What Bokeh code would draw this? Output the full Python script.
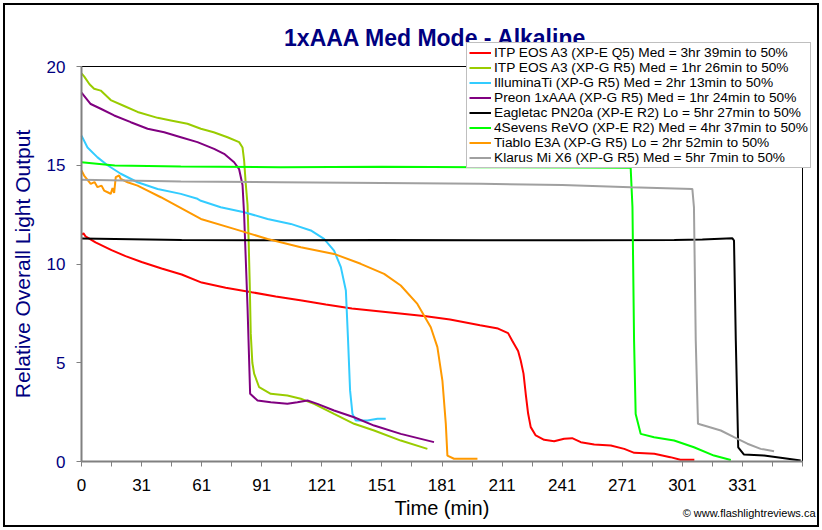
from bokeh.plotting import figure
from bokeh.models import Range1d, FixedTicker, Legend, LegendItem, Label
from bokeh.embed import file_html
from bokeh.resources import INLINE

FONT = "Liberation Sans"

# ---- data (minutes, relative output) ----
red_x = [0, 1, 2, 7, 15, 22, 30, 40, 50, 60, 72, 85, 97, 110, 122, 135, 147, 159, 172, 184, 199, 208, 213, 215,
         218, 219.3, 220.7, 221.8, 223, 224.3, 226.8, 231, 236, 241, 245, 249.3, 256, 264.3, 271, 276, 286, 294, 299, 306]
red_y = [11.5, 11.55, 11.4, 11.1, 10.7, 10.4, 10.1, 9.77, 9.47, 9.06, 8.8, 8.57, 8.36, 8.15, 7.95, 7.75, 7.62, 7.49,
         7.35, 7.19, 6.9, 6.73, 6.5, 6.13, 5.6, 5.11, 4.45, 3.43, 2.43, 1.74, 1.32, 1.1, 1.03, 1.15, 1.18, 0.98, 0.86,
         0.81, 0.64, 0.44, 0.39, 0.22, 0.09, 0.09]

yg_x = [0, 1.3, 4, 6.3, 9.6, 14.6, 21.3, 28, 38, 44.6, 52.9, 59.6, 66, 72.9, 78.7, 80.4, 81.2, 82, 82.9, 83.5, 84,
        84.5, 85.3, 86.2, 88.7, 94.5, 102.8, 109.5, 116.1, 126.1, 136.1, 146.1, 159.4, 172.7]
yg_y = [19.65, 19.5, 19.1, 18.87, 18.78, 18.3, 18.0, 17.7, 17.4, 17.27, 17.1, 16.85, 16.67, 16.42, 16.17, 15.9, 15.24,
        14.07, 13.0, 11.0, 9.0, 6.5, 5.0, 4.45, 3.76, 3.43, 3.34, 3.18, 2.92, 2.41, 1.91, 1.57, 1.06, 0.64]

cyan_x = [0, 3, 8, 13, 19.6, 28, 38, 49.6, 57.9, 59.6, 69.5, 81.2, 92.9, 104.5, 114.5, 121.1, 126.1, 129.5, 132,
          133.1, 134.1, 135.3, 136.9, 142.8, 147.8, 151.9]
cyan_y = [16.5, 15.9, 15.4, 15.0, 14.57, 14.14, 13.8, 13.55, 13.3, 13.2, 12.87, 12.62, 12.28, 12.03, 11.7, 11.27,
          10.68, 9.84, 8.66, 6.13, 3.6, 2.41, 2.08, 2.08, 2.16, 2.16]

purple_x = [0, 4.6, 9.6, 16.3, 24.6, 33, 41.3, 49.6, 57.9, 66.2, 71.2, 76.2, 78.7, 80.4, 81.2, 82.9, 84.2, 87.9, 94.5,
            102.8, 107.8, 112.8, 117.8, 126.1, 136.1, 146.1, 159.4, 176]
purple_y = [18.68, 18.1, 17.86, 17.52, 17.18, 16.85, 16.67, 16.42, 16.17, 15.83, 15.58, 15.15, 14.8, 14.0, 12.5, 7.81,
            3.43, 3.09, 3.0, 2.92, 3.0, 3.09, 2.92, 2.58, 2.24, 1.82, 1.4, 0.98]

black_x = [0, 50, 100, 150, 200, 250, 296, 310, 325, 325.8, 326.7, 327.9, 330.8, 340.8, 349.1, 359.1]
black_y = [11.29, 11.22, 11.2, 11.22, 11.2, 11.2, 11.22, 11.24, 11.3, 11.19, 6.13, 0.72, 0.35, 0.3, 0.19, 0.05]

green_x = [0, 16.6, 49.6, 99.5, 150, 200, 250, 274.2, 275.1, 275.9, 276.7, 279.2, 285.9, 295.9, 305.8, 315.8, 324.2]
green_y = [15.15, 14.99, 14.94, 14.9, 14.92, 14.9, 14.88, 14.87, 12.88, 6.13, 2.41, 1.4, 1.23, 1.06, 0.72, 0.3, 0.08]

orange_x = [0, 1.3, 4.6, 6.5, 8, 10, 11.3, 13.3, 14.6, 15.5, 16.3, 17.1, 18.8, 19.6, 23, 28, 33, 39.6, 59.6, 76.2,
            92.9, 109.5, 126.1, 139.4, 151.1, 159.4, 167.7, 174.4, 177.7, 180.2, 181.9, 182.7, 186, 197.7]
orange_y = [14.73, 14.48, 14.06, 14.15, 13.89, 13.97, 13.72, 13.62, 13.55, 13.85, 13.6, 14.4, 14.48, 14.31, 14.14,
            13.97, 13.72, 13.38, 12.28, 11.78, 11.27, 10.85, 10.51, 10.01, 9.5, 8.91, 7.98, 6.8, 5.79, 4.1, 1.91,
            0.3, 0.14, 0.14]

gray_x = [0, 49.6, 99.5, 150, 199.4, 240, 274.2, 305, 305.8, 306.7, 307.8, 312.5, 319.2, 325.8, 332.5, 339.1, 345.8]
gray_y = [14.26, 14.18, 14.14, 14.1, 14.06, 14.0, 13.89, 13.8, 12.88, 6.13, 1.91, 1.77, 1.57, 1.23, 0.9, 0.64, 0.52]

series_names = [
    "ITP EOS A3 (XP-E Q5) Med = 3hr 39min to 50%",
    "ITP EOS A3 (XP-G R5) Med = 1hr 26min to 50%",
    "IlluminaTi (XP-G R5) Med = 2hr 13min to 50%",
    "Preon 1xAAA (XP-G R5) Med = 1hr 24min to 50%",
    "Eagletac PN20a (XP-E R2) Lo = 5hr 27min to 50%",
    "4Sevens ReVO (XP-E R2) Med = 4hr 37min to 50%",
    "Tiablo E3A (XP-G R5) Lo = 2hr 52min to 50%",
    "Klarus Mi X6 (XP-G R5) Med = 5hr 7min to 50%",
]
series_colors = ["#FF0000", "#99CC00", "#33CCFF", "#800080", "#000000", "#00FF00", "#FF9900", "#A0A0A0"]
series_data = [(red_x, red_y), (yg_x, yg_y), (cyan_x, cyan_y), (purple_x, purple_y),
               (black_x, black_y), (green_x, green_y), (orange_x, orange_y), (gray_x, gray_y)]

x_tick_pos = [0, 30, 60, 90, 120, 150, 180, 210, 240, 270, 300, 330]
x_tick_labels = ["0", "31", "61", "91", "121", "151", "181", "211", "241", "271", "301", "331"]
x_minor_pos = [15, 45, 75, 105, 135, 165, 195, 225, 255, 285, 315, 345, 360]
y_tick_pos = [0, 5, 10, 15, 20]
X_MAX = 360
Y_MAX = 20

# ---- layout (pixels) ----
W, H = 822, 530
AX_LEFT, AX_RIGHT, AX_TOP, AX_BOTTOM = 81, 802, 66, 461   # where 0..X_MAX, 0..Y_MAX sit
FR_LEFT, FR_TOP, FR_RIGHT, FR_BOTTOM = 6, 6, 816, 524      # frame covers the whole chart area
px_per_x = (AX_RIGHT - AX_LEFT) / X_MAX
px_per_y = (AX_BOTTOM - AX_TOP) / Y_MAX


def dx(px):
    return (px - AX_LEFT) / px_per_x


def dy(py):
    return (AX_BOTTOM - py) / px_per_y


p = figure(width=W, height=H, output_backend="svg", toolbar_location=None,
           x_range=Range1d(dx(FR_LEFT), dx(FR_RIGHT)), y_range=Range1d(dy(FR_BOTTOM), dy(FR_TOP)),
           min_border_left=FR_LEFT, min_border_right=W - FR_RIGHT,
           min_border_top=FR_TOP, min_border_bottom=H - FR_BOTTOM)
p.title_location = None
p.xgrid.visible = False
p.ygrid.visible = False
p.background_fill_color = "white"
p.border_fill_color = None
p.outline_line_color = None
p.styles = {"background-color": "#ffffff",
            "box-shadow": "inset 0 0 0 3px #ffffff, inset 0 0 0 5px #000000"}

xa = p.xaxis[0]
xa.fixed_location = 0
xa.bounds = (0, X_MAX)
xa.ticker = FixedTicker(ticks=x_tick_pos, minor_ticks=x_minor_pos)
xa.major_label_overrides = {pos: lab for pos, lab in zip(x_tick_pos, x_tick_labels)}
xa.axis_line_color = "#808080"
xa.axis_line_width = 2
xa.major_tick_line_color = "#808080"
xa.minor_tick_line_color = "#808080"
xa.major_tick_out = 5
xa.major_tick_in = 0
xa.minor_tick_out = 5
xa.minor_tick_in = 0
xa.major_label_text_font = FONT
xa.major_label_text_font_size = "17px"
xa.major_label_text_color = "#000000"
xa.major_label_standoff = 12
xa.axis_label = "Time (min)"
xa.axis_label_text_font = FONT
xa.axis_label_text_font_size = "20px"
xa.axis_label_text_font_style = "normal"
xa.axis_label_text_color = "#000000"
xa.axis_label_standoff = 3

ya = p.yaxis[0]
ya.fixed_location = 0
ya.bounds = (0, Y_MAX)
ya.ticker = FixedTicker(ticks=y_tick_pos)
ya.axis_line_color = "#808080"
ya.axis_line_width = 2
ya.major_tick_line_color = "#808080"
ya.major_tick_out = 5
ya.major_tick_in = 0
ya.minor_tick_line_color = None
ya.major_label_text_font = FONT
ya.major_label_text_font_size = "17px"
ya.major_label_text_color = "#000080"
ya.major_label_standoff = 11
ya.axis_label = "Relative Overall Light Output"
ya.axis_label_text_font = FONT
ya.axis_label_text_font_size = "21px"
ya.axis_label_text_font_style = "normal"
ya.axis_label_text_color = "#000080"
ya.axis_label_standoff = 10

# plot-area border (top and right), drawn at the axis limits
p.segment(x0=[0, X_MAX], y0=[Y_MAX, 0], x1=[X_MAX, X_MAX], y1=[Y_MAX, Y_MAX], line_color="#000000", line_width=1)

items = []
for name, color, (xs, ys) in zip(series_names, series_colors, series_data):
    r = p.line(xs, ys, line_color=color, line_width=2)
    items.append(LegendItem(label=name, renderers=[r]))

legend = Legend(items=items, location=(466 - FR_LEFT, FR_BOTTOM - 168))
legend.label_text_font = FONT
legend.label_text_font_size = "13.7px"
legend.label_text_color = "#000000"
legend.glyph_width = 22
legend.glyph_height = 15
legend.label_height = 15
legend.spacing = 0
legend.padding = 2
legend.margin = 0
legend.label_standoff = 3
legend.border_line_color = "#808080"
legend.border_line_width = 1
legend.background_fill_color = "white"
legend.background_fill_alpha = 1
p.add_layout(legend, "center")

title = Label(x=dx(435), y=dy(37), text="1xAAA Med Mode - Alkaline", level="overlay",
              text_font=FONT, text_font_size="23px", text_font_style="bold", text_color="#000080",
              text_align="center", text_baseline="alphabetic")
p.add_layout(title)

wm = Label(x=dx(815), y=dy(512), text="\u00a9 www.flashlightreviews.ca",
           text_font=FONT, text_font_size="11px", text_color="#000000",
           text_align="right", text_baseline="middle")
p.add_layout(wm)

open("out.html", "w").write(file_html(p, INLINE))
